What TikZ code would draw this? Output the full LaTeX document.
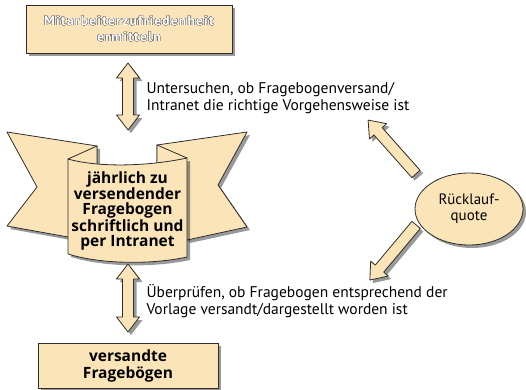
\documentclass[tikz,border=0pt]{standalone}
\usepackage{fontspec}
\setmainfont{PT Sans}
\newfontfamily\fett{Open Sans}
\usepackage{contour}
\contourlength{0.45pt}
\usetikzlibrary{positioning,shapes.geometric,shadows}

\definecolor{peach}{RGB}{252,228,185}
\definecolor{rim}{RGB}{45,45,45}

\tikzset{
  shade3/.style={drop shadow={shadow xshift=3pt, shadow yshift=-3pt, fill=black, opacity=0.4}},
  kasten/.style={draw=rim, fill=peach, line width=0.8pt, shade3},
  band/.style={draw=rim, fill=peach, line width=0.8pt, line join=round},
  notiz/.style={font=\fontsize{15.5}{17}\selectfont, align=left, anchor=west},
  % block arrows, length as argument, pointing along x
  pics/doppelpfeil/.style={code={
    \draw[band, shade3] (-#1/2,0) -- (-#1/2+15,11.5) -- (-#1/2+15,5.5) -- (#1/2-15,5.5)
      -- (#1/2-15,11.5) -- (#1/2,0) -- (#1/2-15,-11.5) -- (#1/2-15,-5.5)
      -- (-#1/2+15,-5.5) -- (-#1/2+15,-11.5) -- cycle;
  }},
  pics/einzelpfeil/.style={code={
    \draw[band, shade3] (-#1/2,5.5) -- (#1/2-15,5.5) -- (#1/2-15,11.5) -- (#1/2,0)
      -- (#1/2-15,-11.5) -- (#1/2-15,-5.5) -- (-#1/2,-5.5) -- cycle;
  }}
}

\begin{document}
\begin{tikzpicture}[x=1pt, y=-1pt]
  \useasboundingbox (0,0) rectangle (526,389);

  % --- top box ---
  \node[kasten, minimum width=206pt, minimum height=48pt, align=center,
    text=white, font=\fontsize{13.5}{16}\selectfont\bfseries\addfontfeatures{LetterSpace=9}]
    (ermitteln) at (129,29)
    {\contour{black!55}{Mitarbeiterzufriedenheit}\\\contour{black!55}{ermitteln}};

  \pic[rotate=90] (pfeiloben) at (128,96.5) {doppelpfeil=67};
  \node[notiz] (untersuchen) at (143,98.5)
    {Untersuchen, ob Fragebogenversand/\\Intranet die richtige Vorgehensweise ist};

  % --- banner ---
  \draw[band, shade3] (7,132) -- (97,146) -- (97,200) -- (68,237) -- (7,226)
    -- (37,187) -- cycle;
  \draw[band, shade3] (247,132) -- (157,145) -- (157,200) -- (187,240) -- (247,227)
    -- (218,185) -- cycle;
  \draw[band] (97,146) -- (68,159) -- (97,172) -- cycle;
  \draw[band] (157,145) -- (187,158) -- (157,172) -- cycle;
  \draw[band, shade3] (68,159) .. controls (100,168) and (150,166) .. (187,158)
    -- (187,257) .. controls (150,265) and (100,264) .. (68,254) -- cycle;
  \node[align=center, font=\fontsize{15.5}{15.3}\selectfont\fett\bfseries] (bogen) at (127.5,211)
    {jährlich zu\\versendender\\Fragebogen\\schriftlich und\\per Intranet};

  % --- lower part ---
  \pic[rotate=90] (pfeilunten) at (128,298) {doppelpfeil=68};
  \node[notiz] (ueberpruefen) at (143,301.5)
    {Überprüfen, ob Fragebogen entsprechend der\\Vorlage versandt/dargestellt worden ist};

  \node[kasten, minimum width=180pt, minimum height=45pt, align=center,
    font=\fontsize{15.5}{17}\selectfont\fett\bfseries] (versandt) at (128,365.5)
    {versandte\\Fragebögen};

  % --- return rate ---
  \node[kasten, ellipse, minimum width=108pt, minimum height=72pt, align=center,
    font=\fontsize{15}{16}\selectfont] (quote) at (469,209) {Rücklauf-\\quote};
  \pic[rotate=131.6] (pfeilrauf) at (392,147) {einzelpfeil=72};
  \pic[rotate=230] (pfeilrunter) at (393,252.5) {einzelpfeil=72};

\end{tikzpicture}
\end{document}
